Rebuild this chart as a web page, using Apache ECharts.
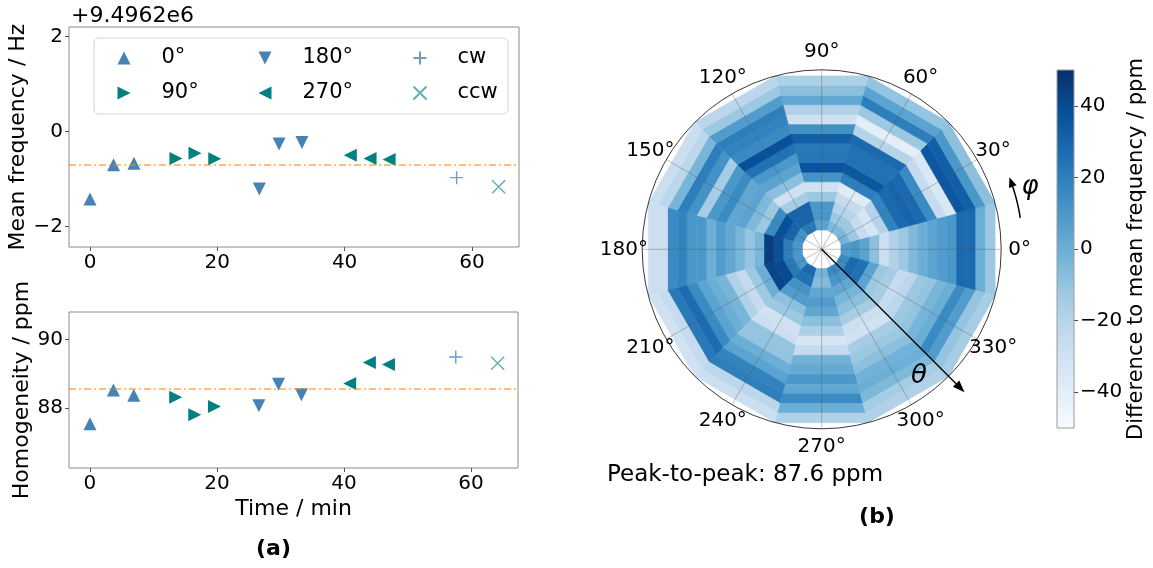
<!DOCTYPE html>
<html>
<head>
<meta charset="utf-8">
<script src="https://cdn.jsdelivr.net/npm/echarts@6/dist/echarts.min.js"></script>
<style>
  html, body { margin: 0; padding: 0; background: #fff; }
  #chart { width: 1153px; height: 568px; }
</style>
</head>
<body>
<div id="chart"></div>
<script>
// ---------- (a) repeated measurements at four orientations + rotations ----------
const time0 = [0, 3.7, 6.9];
const freq0 = [-1.42, -0.70, -0.67];
const homog0 = [87.55, 88.53, 88.38];

const time90 = [13.5, 16.5, 19.6];
const freq90 = [-0.57, -0.455, -0.575];
const homog90 = [88.32, 87.81, 88.05];

const time180 = [26.6, 29.7, 33.3];
const freq180 = [-1.21, -0.26, -0.23];
const homog180 = [88.07, 88.70, 88.39];

const time270 = [40.9, 44.0, 47.0];
const freq270 = [-0.50, -0.57, -0.59];
const homog270 = [88.72, 89.33, 89.27];

const timeCw = [57.6];
const freqCw = [-0.97];
const homogCw = [89.49];

const timeCcw = [64.2];
const freqCcw = [-1.16];
const homogCcw = [89.31];

const meanFreq = -0.70;
const meanHomog = 88.58;

const timeTicks = [0, 20, 40, 60];
const freqTicks = [-2, 0, 2];
const homogTicks = [88, 90];

// ---------- (b) field map: difference to mean frequency (ppm) ----------
// polar angle theta (deg) ring edges, azimuth phi (deg) sector centres
const thetaEdges = [10, 15, 20, 25, 30, 35, 40, 45, 50, 55, 60, 65, 70, 75, 80, 85, 90];
const phiCenters = [0, 30, 60, 90, 120, 150, 180, 210, 240, 270, 300, 330];
const phiTickLabels = [0, 30, 60, 90, 120, 150, 180, 210, 240, 270, 300, 330];

// one list per phi sector, from the innermost theta ring outwards
const phi000 = [8, 10, 5, -8, -28, -18, -12, -5, 0, 5, 8, 10, 28, 28, 0, -12];
const phi030 = [-3, -12, -25, -33, -20, 18, 28, 30, 28, 15, -25, -35, 35, 32, 10, -8];
const phi060 = [-5, -12, -20, -25, -38, 20, 35, 25, 25, 28, -20, -40, -12, 20, 5, -10];
const phi090 = [5, 10, 10, -12, -30, 12, 37, 23, 22, 32, 13, -30, -18, 3, -8, -17];
const phi120 = [22, 30, 30, -15, -30, -8, 5, 10, 25, 38, 15, 18, 20, 8, -12, -22];
const phi150 = [12, 30, 38, 15, -12, -5, 5, 3, 15, 10, -15, 12, 20, -3, -22, -28];
const phi180 = [10, 20, 38, 45, -3, -10, -3, 3, 8, 0, 10, 10, 18, 15, -28, -28];
const phi210 = [10, 22, 40, 42, 0, -12, -25, -18, -3, 0, 5, 15, 27, 22, -25, -30];
const phi240 = [28, 25, 12, 8, -8, -12, -30, -28, -10, -10, 0, 5, 18, 20, -22, -28];
const phi270 = [-3, -6, 3, 8, 3, -8, -17, -33, -25, -2, 2, 10, 3, 15, 0, -18];
const phi300 = [15, 10, 3, -3, -8, -15, -28, -30, -15, -12, -8, -2, 0, -5, -15, -18];
const phi330 = [15, 28, 25, 5, -12, -15, -25, -22, -12, -10, -3, 0, 15, 8, -10, -15];

const colorMin = -50;
const colorMax = 50;
const colorTicks = [-40, -20, 0, 20, 40];
const angleTicksStep = 30;

// ---------- styling ----------
const FONT = 'DejaVu Sans';
const BLUES = ['#f7fbff', '#deebf7', '#c6dbef', '#9ecae1', '#6baed6', '#4292c6', '#2171b5', '#08519c', '#08306b'];
const STEEL = '#4682b4';
const TEAL = '#008080';
const minus = v => String(v).replace('-', '\u2212');

const meshRows = [phi000, phi030, phi060, phi090, phi120, phi150, phi180, phi210, phi240, phi270, phi300, phi330];
const meshData = [];
meshRows.forEach((row, s) => row.forEach((v, k) => meshData.push([k, s, v])));

const zip = (xs, ys) => xs.map((x, i) => [x, ys[i]]);

// marker shapes: triangles pointing along the orientation, plus / cross for rotations
const markerStyles = {
  '0°':   { symbol: 'path://M5,0L10,10L0,10Z', color: STEEL },
  '90°':  { symbol: 'path://M0,0L10,5L0,10Z', color: TEAL },
  '180°': { symbol: 'path://M0,0L10,0L5,10Z', color: STEEL },
  '270°': { symbol: 'path://M10,0L0,5L10,10Z', color: TEAL },
  'cw':   { symbol: 'path://M5,0L5,10M0,5L10,5', color: '#6f9cc4', line: true },
  'ccw':  { symbol: 'path://M0,0L10,10M0,10L10,0', color: '#5fb0b0', line: true }
};

function scatter(name, xs, ys, axis, mean) {
  const m = markerStyles[name];
  const s = {
    type: 'scatter', name: name, xAxisIndex: axis, yAxisIndex: axis,
    data: zip(xs, ys), symbol: m.symbol, symbolSize: 13, silent: true, z: 3,
    itemStyle: m.line
      ? { color: 'rgba(0,0,0,0)', borderColor: m.color, borderWidth: 1.4, opacity: 1 }
      : { color: m.color, opacity: 1 }
  };
  if (mean !== undefined) {
    s.markLine = {
      silent: true, symbol: 'none', label: { show: false },
      lineStyle: { color: 'rgba(255,140,0,0.55)', type: [7, 3, 2, 3], width: 1.8 },
      data: [{ yAxis: mean }]
    };
  }
  return s;
}

function timeAxis(grid, named) {
  return {
    type: 'value', gridIndex: grid, min: -3.3, max: 67.4,
    axisLine: { show: false, onZero: false },
    axisTick: { show: true, length: 4, lineStyle: { color: '#555' }, customValues: timeTicks },
    axisLabel: { customValues: timeTicks, fontSize: 20, fontFamily: FONT, color: '#000', margin: 6 },
    splitLine: { show: false },
    name: named ? 'Time / min' : '', nameLocation: 'middle', nameGap: 30,
    nameTextStyle: { fontSize: 22, fontFamily: FONT, color: '#000' }
  };
}

function valueAxis(grid, min, max, ticks, name) {
  return {
    type: 'value', gridIndex: grid, min: min, max: max,
    axisLine: { show: false, onZero: false },
    axisTick: { show: true, length: 4, lineStyle: { color: '#555' }, customValues: ticks },
    axisLabel: { customValues: ticks, fontSize: 20, fontFamily: FONT, color: '#000', margin: 6, formatter: minus },
    splitLine: { show: false },
    name: name, nameLocation: 'middle', nameGap: 23,
    nameTextStyle: { fontSize: 22, fontFamily: FONT, color: '#000' }
  };
}

function legendBlock(names, left) {
  return {
    data: names, orient: 'vertical', left: left, top: 45, padding: 0,
    itemWidth: 13, itemHeight: 13, itemGap: 9, selectedMode: false,
    textStyle: { fontSize: 21, fontFamily: FONT, color: '#000', lineHeight: 26, padding: [0, 0, 0, 26] }
  };
}

// helper for arrow heads in pixel space
function arrowHead(tip, from, len, half) {
  const dx = from[0] - tip[0], dy = from[1] - tip[1];
  const d = Math.hypot(dx, dy), ux = dx / d, uy = dy / d;
  const bx = tip[0] + ux * len, by = tip[1] + uy * len;
  return { base: [bx, by], pts: [tip, [bx - uy * half, by + ux * half], [bx + uy * half, by - ux * half]] };
}

const option = {
  animation: false,
  backgroundColor: '#fff',
  textStyle: { fontFamily: FONT },
  grid: [
    { left: 69, top: 27, width: 450, height: 220, show: true, borderColor: '#8c8c8c', borderWidth: 1, backgroundColor: 'transparent' },
    { left: 69, top: 312, width: 449, height: 156, show: true, borderColor: '#8c8c8c', borderWidth: 1, backgroundColor: 'transparent' },
    { left: 1057, top: 70, width: 17, height: 358, show: false }
  ],
  xAxis: [
    timeAxis(0, false),
    timeAxis(1, true),
    { type: 'value', gridIndex: 2, min: 0, max: 1, show: false }
  ],
  yAxis: [
    valueAxis(0, -2.43, 2.2, freqTicks, 'Mean frequency / Hz'),
    valueAxis(1, 86.26, 90.8, homogTicks, 'Homogeneity / ppm'),
    {
      type: 'value', gridIndex: 2, min: colorMin, max: colorMax, position: 'right',
      axisLine: { show: false, onZero: false },
      axisTick: { show: true, length: 4, lineStyle: { color: '#444' }, customValues: colorTicks },
      axisLabel: { customValues: colorTicks, fontSize: 20, fontFamily: FONT, color: '#000', margin: 6, formatter: minus },
      splitLine: { show: false },
      name: 'Difference to mean frequency / ppm', nameLocation: 'middle', nameRotate: 90, nameGap: 52,
      nameTextStyle: { fontSize: 21, fontFamily: FONT, color: '#000' }
    }
  ],
  polar: { center: [821.7, 249.3], radius: 179.5 },
  angleAxis: {
    type: 'value', min: 0, max: 360, interval: angleTicksStep, startAngle: 0, clockwise: false, z: 4,
    axisLine: { show: true, lineStyle: { color: '#222', width: 0.9 } },
    axisTick: { show: false },
    axisLabel: { show: false },
    splitLine: { show: true, lineStyle: { color: 'rgba(80,80,80,0.45)', width: 0.8 } }
  },
  radiusAxis: {
    type: 'value', min: 0, max: 90,
    axisLine: { show: false }, axisTick: { show: false }, axisLabel: { show: false }, splitLine: { show: false }
  },
  visualMap: {
    type: 'continuous', show: false, min: colorMin, max: colorMax, dimension: 2, seriesIndex: 12,
    inRange: { color: BLUES }
  },
  legend: [
    legendBlock(['0°', '90°'], 117.5),
    legendBlock(['180°', '270°'], 258.5),
    legendBlock(['cw', 'ccw'], 412.5)
  ],
  graphic: [
    { type: 'rect', z: 2, shape: { x: 94, y: 38, width: 414, height: 76, r: 5 },
      style: { fill: 'rgba(255,255,255,0.8)', stroke: '#d4d4d4', lineWidth: 1 } },
    { type: 'text', x: 71, y: 16, style: { text: '+9.4962e6', font: '22px ' + FONT, fill: '#000', verticalAlign: 'middle' } },
    { type: 'text', x: 273.5, y: 549, style: { text: '(a)', font: 'bold 22px ' + FONT, fill: '#000', align: 'center', verticalAlign: 'middle' } },
    { type: 'text', x: 607, y: 475, style: { text: 'Peak-to-peak: 87.6 ppm', font: '23px ' + FONT, fill: '#000', verticalAlign: 'middle' } },
    { type: 'text', x: 877, y: 517, style: { text: '(b)', font: 'bold 22px ' + FONT, fill: '#000', align: 'center', verticalAlign: 'middle' } }
  ],
  series: [
    scatter('0°', time0, freq0, 0, meanFreq),
    scatter('90°', time90, freq90, 0),
    scatter('180°', time180, freq180, 0),
    scatter('270°', time270, freq270, 0),
    scatter('cw', timeCw, freqCw, 0),
    scatter('ccw', timeCcw, freqCcw, 0),
    scatter('0°', time0, homog0, 1, meanHomog),
    scatter('90°', time90, homog90, 1),
    scatter('180°', time180, homog180, 1),
    scatter('270°', time270, homog270, 1),
    scatter('cw', timeCw, homogCw, 1),
    scatter('ccw', timeCcw, homogCcw, 1),
    {
      // theta/phi mesh, straight-edged cells like a polar pcolormesh
      type: 'custom', coordinateSystem: 'polar', silent: true, z: 2,
      data: meshData,
      renderItem: function (params, api) {
        const k = api.value(0), s = api.value(1);
        const r0 = thetaEdges[k], r1 = thetaEdges[k + 1];
        const half = angleTicksStep / 2;
        const a0 = phiCenters[s] - half, a1 = phiCenters[s] + half;
        const pts = [api.coord([r0, a0]), api.coord([r0, a1]), api.coord([r1, a1]), api.coord([r1, a0])];
        const c = api.visual('color');
        return { type: 'polygon', shape: { points: pts }, style: { fill: c, stroke: c, lineWidth: 0.6 } };
      }
    },
    {
      // colour bar
      type: 'custom', xAxisIndex: 2, yAxisIndex: 2, silent: true, z: 2,
      data: [[0, colorMin, 1, colorMax]],
      renderItem: function (params, api) {
        const p0 = api.coord([api.value(0), api.value(3)]);
        const p1 = api.coord([api.value(2), api.value(1)]);
        const stops = BLUES.map((c, i) => ({ offset: i / (BLUES.length - 1), color: c }));
        return {
          type: 'rect',
          shape: { x: p0[0], y: p0[1], width: p1[0] - p0[0], height: p1[1] - p0[1] },
          style: { fill: new echarts.graphic.LinearGradient(0, 1, 0, 0, stops), stroke: '#9a9a9a', lineWidth: 1 }
        };
      }
    },
    {
      // theta and phi direction arrows
      type: 'custom', coordinateSystem: 'polar', silent: true, z: 6,
      data: [[101.3, 315]],
      renderItem: function (params, api) {
        const centre = api.coord([0, 0]);
        const tip = api.coord([api.value(0), api.value(1)]);
        const h1 = arrowHead(tip, centre, 12, 4.5);
        const arc = [];
        for (let a = 9; a <= 21; a += 1) arc.push(api.coord([100.8, a]));
        const aTip = arc[arc.length - 1];
        const h2 = arrowHead(aTip, arc[arc.length - 3], 10, 4);
        arc[arc.length - 1] = h2.base;
        const tLab = api.coord([80.1, 307.5]);
        const pLab = api.coord([109, 16.6]);
        return {
          type: 'group',
          children: [
            { type: 'line', shape: { x1: centre[0], y1: centre[1], x2: h1.base[0], y2: h1.base[1] }, style: { stroke: '#000', lineWidth: 1.3 } },
            { type: 'polygon', shape: { points: h1.pts }, style: { fill: '#000' } },
            { type: 'polyline', shape: { points: arc }, style: { stroke: '#000', lineWidth: 1.5, fill: null } },
            { type: 'polygon', shape: { points: h2.pts }, style: { fill: '#000' } },
            { type: 'text', x: tLab[0], y: tLab[1], style: { text: 'θ', font: 'italic 26px ' + FONT, fill: '#000', align: 'center', verticalAlign: 'middle' } },
            { type: 'text', x: pLab[0], y: pLab[1], style: { text: 'φ', font: 'italic 26px ' + FONT, fill: '#000', align: 'center', verticalAlign: 'middle' } }
          ]
        };
      }
    },
    {
      // azimuth tick labels, centred on a circle just outside the plot edge
      type: 'custom', coordinateSystem: 'polar', silent: true, z: 6,
      data: phiTickLabels.map(a => [99.2, a]),
      renderItem: function (params, api) {
        const p = api.coord([api.value(0), api.value(1)]);
        return {
          type: 'text', x: p[0], y: p[1],
          style: { text: api.value(1) + '°', font: '20px ' + FONT, fill: '#000', align: 'center', verticalAlign: 'middle' }
        };
      }
    }
  ]
};

const chart = echarts.init(document.getElementById('chart'));
chart.setOption(option);
</script>
</body>
</html>
